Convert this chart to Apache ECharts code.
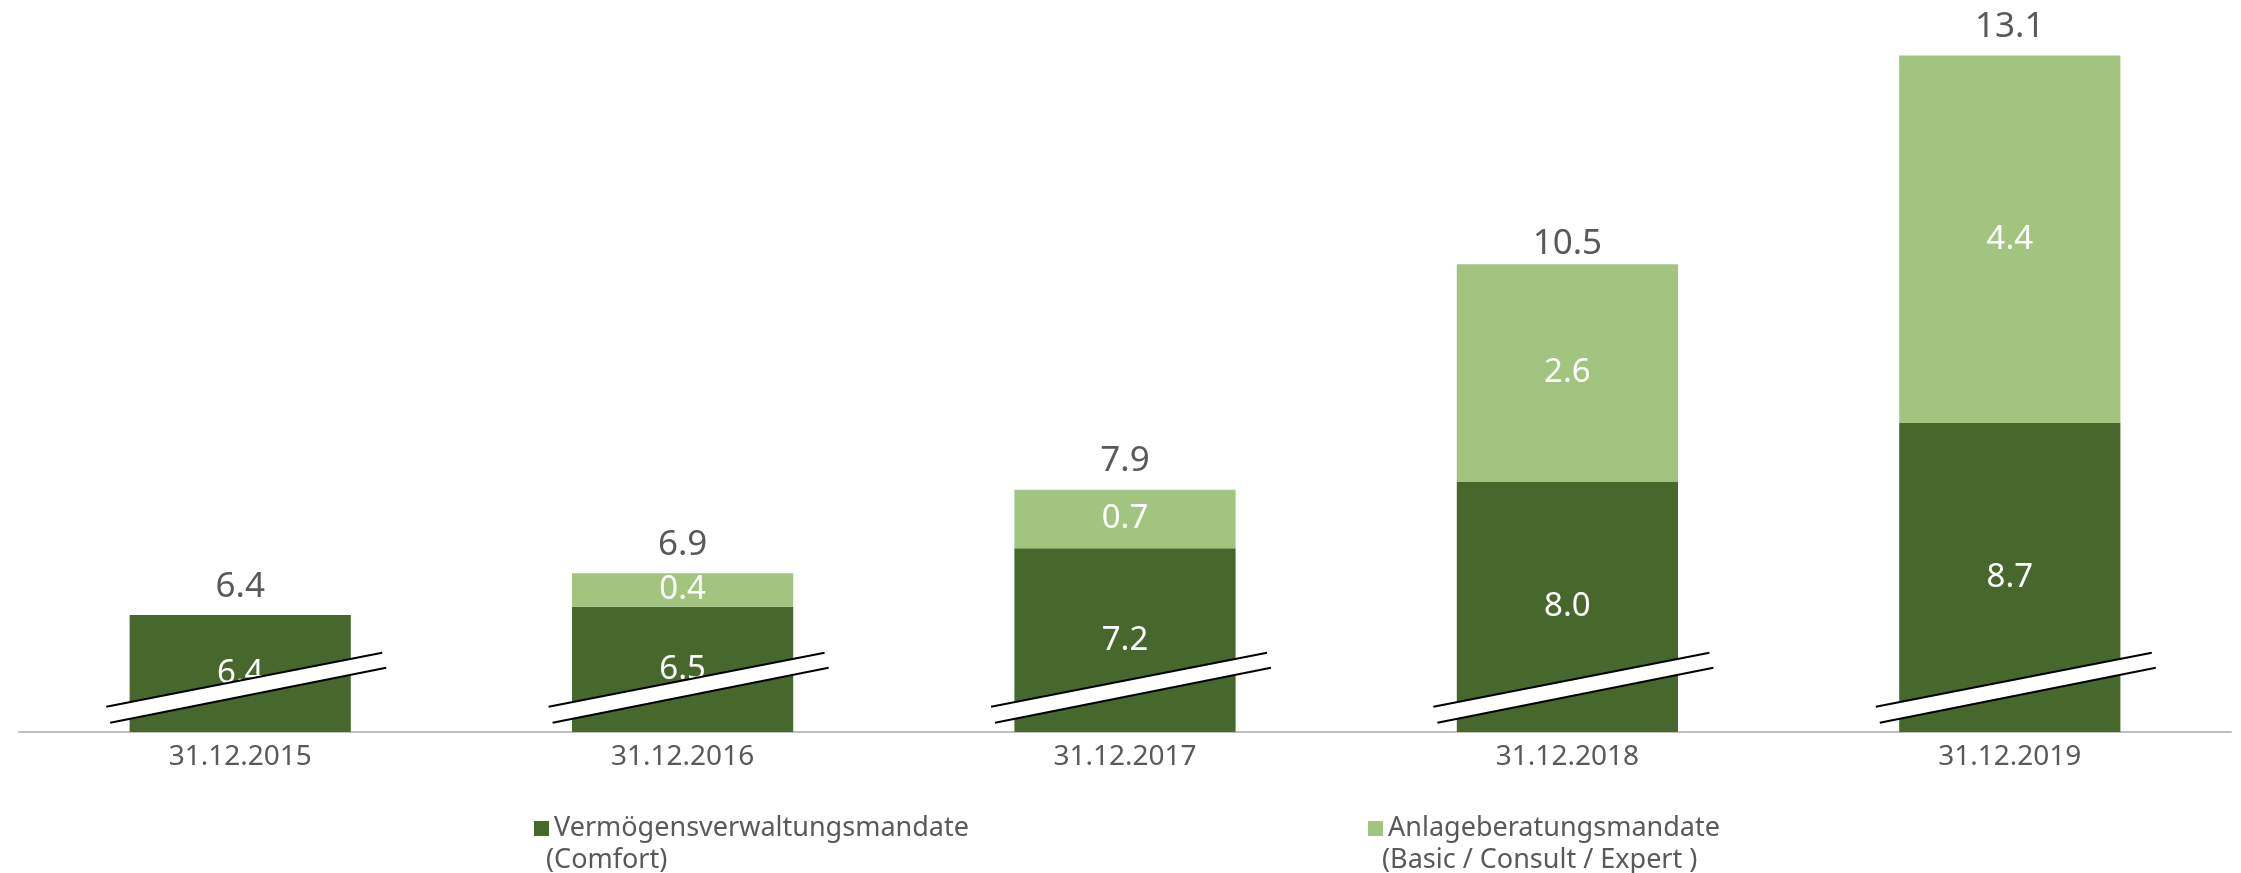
<!DOCTYPE html>
<html>
<head>
<meta charset="utf-8">
<script src="https://cdn.jsdelivr.net/npm/echarts@6/dist/echarts.min.js"></script>
<style>html,body{margin:0;padding:0;background:#fff;}#c{width:2241px;height:873px;}</style>
</head>
<body>
<div id="c"></div>
<script>
var categories = ['31.12.2015', '31.12.2016', '31.12.2017', '31.12.2018', '31.12.2019'];
var seriesNames = ['Vermögensverwaltungsmandate', 'Anlageberatungsmandate'];
var seriesSubtitles = ['(Comfort)', '(Basic / Consult / Expert )'];
var vermoegen = [6.4, 6.5, 7.2, 8.0, 8.7];
var anlage = [null, 0.4, 0.7, 2.6, 4.4];
var totals = [6.4, 6.9, 7.9, 10.5, 13.1];
var breakValue = [5.53, 5.53, 5.53, 5.53, 5.53];

var FONT = '"Noto Sans", "Open Sans", sans-serif';
var DARK = '#47682C';
var LIGHT = '#A1C57F';
var GRAY = '#595959';

var legendStyle = { color: GRAY, fontFamily: FONT, fontSize: 27 };

var chart = echarts.init(document.getElementById('c'));
chart.setOption({
  animation: false,
  grid: { left: 19, right: 10, top: 22, bottom: 141 },
  legend: [
    {
      data: [seriesNames[0]],
      left: 529, top: 810, itemWidth: 15, itemHeight: 15, icon: 'rect', itemGap: 8,
      textStyle: legendStyle, selectedMode: false
    },
    {
      data: [seriesNames[1]],
      left: 1363, top: 810, itemWidth: 15, itemHeight: 15, icon: 'rect', itemGap: 8,
      textStyle: legendStyle, selectedMode: false
    }
  ],
  graphic: [
    { type: 'text', left: 546, top: 840, style: { text: seriesSubtitles[0], fill: GRAY, font: '27px ' + FONT, lineHeight: 40 } },
    { type: 'text', left: 1382, top: 840, style: { text: seriesSubtitles[1], fill: GRAY, font: '27px ' + FONT, lineHeight: 40 } }
  ],
  xAxis: {
    type: 'category',
    data: categories,
    axisLine: { lineStyle: { color: '#BFBFBF', width: 2 } },
    axisTick: { show: false },
    axisLabel: { color: GRAY, fontFamily: FONT, fontSize: 28, margin: 11 }
  },
  yAxis: {
    type: 'value', min: 5, max: 13.5,
    show: false, splitLine: { show: false }
  },
  series: [
    {
      name: seriesNames[0],
      type: 'bar', stack: 'a', barWidth: '50%',
      data: vermoegen,
      itemStyle: { color: DARK },
      label: { show: true, position: 'inside', color: '#fff', fontFamily: FONT, fontSize: 33,
               formatter: function (p) { return p.value.toFixed(1); } }
    },
    {
      name: seriesNames[1],
      type: 'bar', stack: 'a', barWidth: '50%',
      data: anlage,
      itemStyle: { color: LIGHT },
      label: { show: true, position: 'inside', color: '#fff', fontFamily: FONT, fontSize: 33,
               formatter: function (p) { return p.value == null ? '' : p.value.toFixed(1); } }
    },
    {
      name: 'total',
      type: 'bar', barWidth: '50%', barGap: '-100%',
      data: totals,
      itemStyle: { color: 'rgba(0,0,0,0)' },
      label: { show: true, position: 'top', distance: 11, color: GRAY, fontFamily: FONT, fontSize: 35,
               formatter: function (p) { return p.value.toFixed(1); } },
      silent: true, z: 1
    },
    {
      name: 'break',
      type: 'custom',
      data: breakValue.map(function (v, i) { return [i, v]; }),
      z: 10,
      renderItem: function (params, api) {
        var c = api.coord([api.value(0), api.value(1)]);
        var x = c[0], y = c[1];
        var u1 = [x - 134, y + 19], u2 = [x + 142, y - 35];
        var l1 = [x - 130, y + 35], l2 = [x + 146, y - 20];
        return {
          type: 'group',
          children: [
            { type: 'polygon', shape: { points: [u1, u2, l2, l1] }, style: { fill: '#fff', stroke: null } },
            { type: 'line', shape: { x1: u1[0], y1: u1[1], x2: u2[0], y2: u2[1] }, style: { stroke: '#000', lineWidth: 2 } },
            { type: 'line', shape: { x1: l1[0], y1: l1[1], x2: l2[0], y2: l2[1] }, style: { stroke: '#000', lineWidth: 2 } }
          ]
        };
      }
    }
  ]
});
</script>
</body>
</html>
